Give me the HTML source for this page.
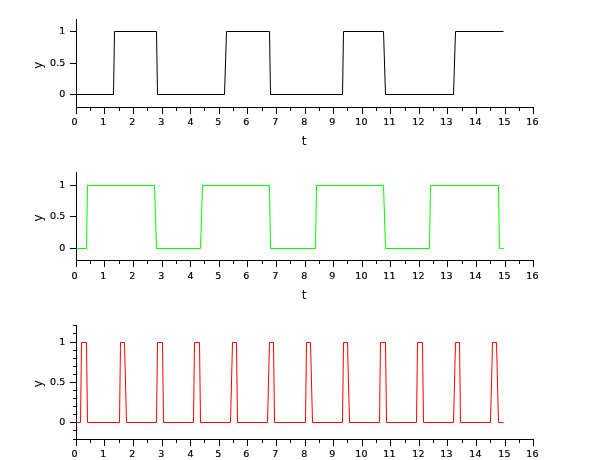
<!DOCTYPE html>
<html><head><meta charset="utf-8"><title>plot</title>
<style>
html,body{margin:0;padding:0;background:#fff;}
body{width:610px;height:460px;overflow:hidden;}
svg{display:block;}
text{font-family:"DejaVu Sans","Liberation Sans",sans-serif;fill:#000;}
.tk{font-size:9.5px;letter-spacing:0.3px;stroke:#000;stroke-width:0.2px;}
.lb{font-size:12px;}
.ax rect{fill:#000;}
.d{fill:none;stroke-width:1;stroke-linejoin:miter;}
</style></head><body>
<svg width="610" height="460" viewBox="0 0 610 460">
<rect width="610" height="460" fill="#fff"/>
<g class="ax" shape-rendering="crispEdges">
<rect x="76" y="19" width="1" height="89"/>
<rect x="76" y="107" width="458" height="1"/>
<rect x="70" y="31" width="6" height="1"/>
<rect x="70" y="63" width="6" height="1"/>
<rect x="70" y="94" width="6" height="1"/>
<rect x="76" y="108" width="1" height="6"/>
<rect x="90" y="108" width="1" height="3"/>
<rect x="104" y="108" width="1" height="6"/>
<rect x="119" y="108" width="1" height="3"/>
<rect x="133" y="108" width="1" height="6"/>
<rect x="147" y="108" width="1" height="3"/>
<rect x="162" y="108" width="1" height="6"/>
<rect x="176" y="108" width="1" height="3"/>
<rect x="190" y="108" width="1" height="6"/>
<rect x="204" y="108" width="1" height="3"/>
<rect x="219" y="108" width="1" height="6"/>
<rect x="233" y="108" width="1" height="3"/>
<rect x="247" y="108" width="1" height="6"/>
<rect x="262" y="108" width="1" height="3"/>
<rect x="276" y="108" width="1" height="6"/>
<rect x="290" y="108" width="1" height="3"/>
<rect x="305" y="108" width="1" height="6"/>
<rect x="319" y="108" width="1" height="3"/>
<rect x="333" y="108" width="1" height="6"/>
<rect x="347" y="108" width="1" height="3"/>
<rect x="362" y="108" width="1" height="6"/>
<rect x="376" y="108" width="1" height="3"/>
<rect x="390" y="108" width="1" height="6"/>
<rect x="405" y="108" width="1" height="3"/>
<rect x="419" y="108" width="1" height="6"/>
<rect x="433" y="108" width="1" height="3"/>
<rect x="447" y="108" width="1" height="6"/>
<rect x="462" y="108" width="1" height="3"/>
<rect x="476" y="108" width="1" height="6"/>
<rect x="490" y="108" width="1" height="3"/>
<rect x="505" y="108" width="1" height="6"/>
<rect x="519" y="108" width="1" height="3"/>
<rect x="533" y="108" width="1" height="6"/>
</g>
<g class="tk">
<text x="65.5" y="34" text-anchor="end" style="letter-spacing:0.1px">1</text>
<text x="65.5" y="66" text-anchor="end" style="letter-spacing:0.1px">0.5</text>
<text x="65.5" y="97" text-anchor="end" style="letter-spacing:0.1px">0</text>
<text x="74.8" y="125" text-anchor="middle">0</text>
<text x="103.5" y="125" text-anchor="middle">1</text>
<text x="132.5" y="125" text-anchor="middle">2</text>
<text x="161.5" y="125" text-anchor="middle">3</text>
<text x="190.7" y="125" text-anchor="middle">4</text>
<text x="218.5" y="125" text-anchor="middle">5</text>
<text x="246.5" y="125" text-anchor="middle">6</text>
<text x="275.5" y="125" text-anchor="middle">7</text>
<text x="304.5" y="125" text-anchor="middle">8</text>
<text x="332.5" y="125" text-anchor="middle">9</text>
<text x="361.5" y="125" text-anchor="middle">10</text>
<text x="389.5" y="125" text-anchor="middle">11</text>
<text x="418.5" y="125" text-anchor="middle">12</text>
<text x="446.5" y="125" text-anchor="middle">13</text>
<text x="475.5" y="125" text-anchor="middle">14</text>
<text x="504.5" y="125" text-anchor="middle">15</text>
<text x="532.5" y="125" text-anchor="middle">16</text>
</g>
<text class="lb" text-anchor="middle" transform="translate(42,65.2) rotate(-90)">y</text>
<text class="lb" x="304.2" y="145" text-anchor="middle">t</text>
<polyline class="d" stroke="#000" points="76.5,94.5 113.5,94.5 114.5,31.5 156.5,31.5 157.5,94.5 224.5,94.5 226.5,31.5 269.5,31.5 270.5,94.5 342.5,94.5 343.5,31.5 383.5,31.5 385.5,94.5 453.5,94.5 455.5,31.5 503.5,31.5"/>
<g class="ax" shape-rendering="crispEdges">
<rect x="76" y="172" width="1" height="89"/>
<rect x="76" y="260" width="458" height="1"/>
<rect x="70" y="185" width="6" height="1"/>
<rect x="70" y="216" width="6" height="1"/>
<rect x="70" y="248" width="6" height="1"/>
<rect x="76" y="261" width="1" height="6"/>
<rect x="90" y="261" width="1" height="3"/>
<rect x="104" y="261" width="1" height="6"/>
<rect x="119" y="261" width="1" height="3"/>
<rect x="133" y="261" width="1" height="6"/>
<rect x="147" y="261" width="1" height="3"/>
<rect x="162" y="261" width="1" height="6"/>
<rect x="176" y="261" width="1" height="3"/>
<rect x="190" y="261" width="1" height="6"/>
<rect x="204" y="261" width="1" height="3"/>
<rect x="219" y="261" width="1" height="6"/>
<rect x="233" y="261" width="1" height="3"/>
<rect x="247" y="261" width="1" height="6"/>
<rect x="262" y="261" width="1" height="3"/>
<rect x="276" y="261" width="1" height="6"/>
<rect x="290" y="261" width="1" height="3"/>
<rect x="305" y="261" width="1" height="6"/>
<rect x="319" y="261" width="1" height="3"/>
<rect x="333" y="261" width="1" height="6"/>
<rect x="347" y="261" width="1" height="3"/>
<rect x="362" y="261" width="1" height="6"/>
<rect x="376" y="261" width="1" height="3"/>
<rect x="390" y="261" width="1" height="6"/>
<rect x="405" y="261" width="1" height="3"/>
<rect x="419" y="261" width="1" height="6"/>
<rect x="433" y="261" width="1" height="3"/>
<rect x="447" y="261" width="1" height="6"/>
<rect x="462" y="261" width="1" height="3"/>
<rect x="476" y="261" width="1" height="6"/>
<rect x="490" y="261" width="1" height="3"/>
<rect x="505" y="261" width="1" height="6"/>
<rect x="519" y="261" width="1" height="3"/>
<rect x="533" y="261" width="1" height="6"/>
</g>
<g class="tk">
<text x="65.5" y="188" text-anchor="end" style="letter-spacing:0.1px">1</text>
<text x="65.5" y="219" text-anchor="end" style="letter-spacing:0.1px">0.5</text>
<text x="65.5" y="251" text-anchor="end" style="letter-spacing:0.1px">0</text>
<text x="74.8" y="279" text-anchor="middle">0</text>
<text x="103.5" y="279" text-anchor="middle">1</text>
<text x="132.5" y="279" text-anchor="middle">2</text>
<text x="161.5" y="279" text-anchor="middle">3</text>
<text x="190.7" y="279" text-anchor="middle">4</text>
<text x="218.5" y="279" text-anchor="middle">5</text>
<text x="246.5" y="279" text-anchor="middle">6</text>
<text x="275.5" y="279" text-anchor="middle">7</text>
<text x="304.5" y="279" text-anchor="middle">8</text>
<text x="332.5" y="279" text-anchor="middle">9</text>
<text x="361.5" y="279" text-anchor="middle">10</text>
<text x="389.5" y="279" text-anchor="middle">11</text>
<text x="418.5" y="279" text-anchor="middle">12</text>
<text x="446.5" y="279" text-anchor="middle">13</text>
<text x="475.5" y="279" text-anchor="middle">14</text>
<text x="504.5" y="279" text-anchor="middle">15</text>
<text x="532.5" y="279" text-anchor="middle">16</text>
</g>
<text class="lb" text-anchor="middle" transform="translate(42,218.0) rotate(-90)">y</text>
<text class="lb" x="304.2" y="299" text-anchor="middle">t</text>
<polyline class="d" stroke="#0f0" points="76.5,248.5 86.5,248.5 87.5,185.5 154.5,185.5 156.5,248.5 200.5,248.5 202.5,185.5 269.5,185.5 270.5,248.5 315.5,248.5 316.5,185.5 383.5,185.5 385.5,248.5 429.5,248.5 430.5,185.5 498.5,185.5 499.5,248.5 503.5,248.5"/>
<g class="ax" shape-rendering="crispEdges">
<rect x="76" y="325" width="1" height="115"/>
<rect x="76" y="439" width="458" height="1"/>
<rect x="70" y="342" width="6" height="1"/>
<rect x="70" y="382" width="6" height="1"/>
<rect x="70" y="422" width="6" height="1"/>
<rect x="73" y="325" width="3" height="1"/>
<rect x="73" y="333" width="3" height="1"/>
<rect x="73" y="350" width="3" height="1"/>
<rect x="73" y="358" width="3" height="1"/>
<rect x="73" y="366" width="3" height="1"/>
<rect x="73" y="374" width="3" height="1"/>
<rect x="73" y="390" width="3" height="1"/>
<rect x="73" y="398" width="3" height="1"/>
<rect x="73" y="406" width="3" height="1"/>
<rect x="73" y="414" width="3" height="1"/>
<rect x="73" y="430" width="3" height="1"/>
<rect x="73" y="439" width="3" height="1"/>
<rect x="76" y="440" width="1" height="6"/>
<rect x="90" y="440" width="1" height="3"/>
<rect x="104" y="440" width="1" height="6"/>
<rect x="119" y="440" width="1" height="3"/>
<rect x="133" y="440" width="1" height="6"/>
<rect x="147" y="440" width="1" height="3"/>
<rect x="162" y="440" width="1" height="6"/>
<rect x="176" y="440" width="1" height="3"/>
<rect x="190" y="440" width="1" height="6"/>
<rect x="204" y="440" width="1" height="3"/>
<rect x="219" y="440" width="1" height="6"/>
<rect x="233" y="440" width="1" height="3"/>
<rect x="247" y="440" width="1" height="6"/>
<rect x="262" y="440" width="1" height="3"/>
<rect x="276" y="440" width="1" height="6"/>
<rect x="290" y="440" width="1" height="3"/>
<rect x="305" y="440" width="1" height="6"/>
<rect x="319" y="440" width="1" height="3"/>
<rect x="333" y="440" width="1" height="6"/>
<rect x="347" y="440" width="1" height="3"/>
<rect x="362" y="440" width="1" height="6"/>
<rect x="376" y="440" width="1" height="3"/>
<rect x="390" y="440" width="1" height="6"/>
<rect x="405" y="440" width="1" height="3"/>
<rect x="419" y="440" width="1" height="6"/>
<rect x="433" y="440" width="1" height="3"/>
<rect x="447" y="440" width="1" height="6"/>
<rect x="462" y="440" width="1" height="3"/>
<rect x="476" y="440" width="1" height="6"/>
<rect x="490" y="440" width="1" height="3"/>
<rect x="505" y="440" width="1" height="6"/>
<rect x="519" y="440" width="1" height="3"/>
<rect x="533" y="440" width="1" height="6"/>
</g>
<g class="tk">
<text x="65.5" y="345" text-anchor="end" style="letter-spacing:0.1px">1</text>
<text x="65.5" y="385" text-anchor="end" style="letter-spacing:0.1px">0.5</text>
<text x="65.5" y="425" text-anchor="end" style="letter-spacing:0.1px">0</text>
<text x="74.8" y="457" text-anchor="middle">0</text>
<text x="103.5" y="457" text-anchor="middle">1</text>
<text x="132.5" y="457" text-anchor="middle">2</text>
<text x="161.5" y="457" text-anchor="middle">3</text>
<text x="190.7" y="457" text-anchor="middle">4</text>
<text x="218.5" y="457" text-anchor="middle">5</text>
<text x="246.5" y="457" text-anchor="middle">6</text>
<text x="275.5" y="457" text-anchor="middle">7</text>
<text x="304.5" y="457" text-anchor="middle">8</text>
<text x="332.5" y="457" text-anchor="middle">9</text>
<text x="361.5" y="457" text-anchor="middle">10</text>
<text x="389.5" y="457" text-anchor="middle">11</text>
<text x="418.5" y="457" text-anchor="middle">12</text>
<text x="446.5" y="457" text-anchor="middle">13</text>
<text x="475.5" y="457" text-anchor="middle">14</text>
<text x="504.5" y="457" text-anchor="middle">15</text>
<text x="532.5" y="457" text-anchor="middle">16</text>
</g>
<text class="lb" text-anchor="middle" transform="translate(42,383.7) rotate(-90)">y</text>
<polyline class="d" stroke="#f00" points="76.5,422.5 80.5,422.5 81.5,342.5 86.5,342.5 87.5,422.5 119.5,422.5 120.5,342.5 124.5,342.5 126.5,422.5 156.5,422.5 157.5,342.5 162.5,342.5 163.5,422.5 193.5,422.5 194.5,342.5 199.5,342.5 200.5,422.5 230.5,422.5 232.5,342.5 236.5,342.5 237.5,422.5 267.5,422.5 269.5,342.5 273.5,342.5 274.5,422.5 305.5,422.5 306.5,342.5 310.5,342.5 312.5,422.5 342.5,422.5 343.5,342.5 347.5,342.5 349.5,422.5 379.5,422.5 380.5,342.5 385.5,342.5 386.5,422.5 416.5,422.5 417.5,342.5 422.5,342.5 423.5,422.5 453.5,422.5 455.5,342.5 459.5,342.5 460.5,422.5 490.5,422.5 492.5,342.5 496.5,342.5 498.5,422.5 503.5,422.5"/>
</svg>
</body></html>
